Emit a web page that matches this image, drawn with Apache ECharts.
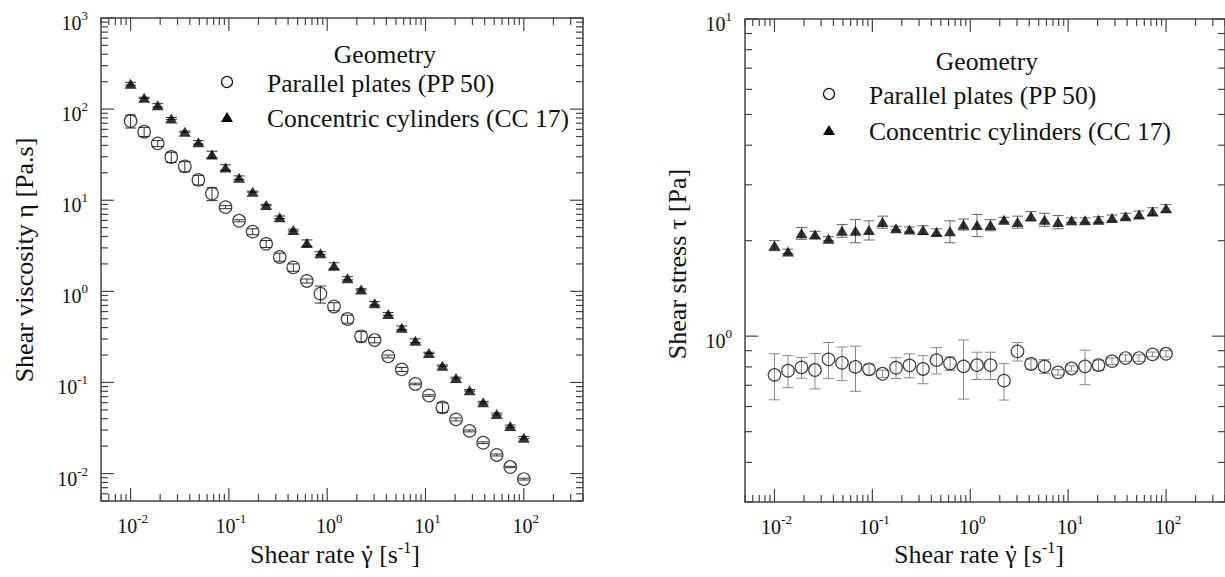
<!DOCTYPE html>
<html>
<head>
<meta charset="utf-8">
<script src="https://cdn.jsdelivr.net/npm/echarts@6/dist/echarts.min.js"></script>
<style>
html,body{margin:0;padding:0;background:#fff;}
#chart{width:1225px;height:577px;}
</style>
</head>
<body>
<div id="chart"></div>
<script>
// ---------- data ----------
const shearRate = [0.01, 0.01374, 0.01888, 0.02593, 0.03562, 0.04894, 0.06723, 0.09237, 0.1269, 0.1743,
  0.2395, 0.3290, 0.4520, 0.6210, 0.8532, 1.172, 1.610, 2.212, 3.039, 4.175,
  5.736, 7.880, 10.83, 14.87, 20.43, 28.07, 38.57, 52.98, 72.79, 100];

const viscosityPP = [74, 56.5, 42, 29.8, 23.5, 16.7, 11.8, 8.4, 5.95, 4.52,
  3.32, 2.38, 1.83, 1.30, 0.943, 0.682, 0.497, 0.321, 0.292, 0.193,
  0.139, 0.0963, 0.0719, 0.0532, 0.0393, 0.0294, 0.0218, 0.0160, 0.0118, 0.0087];
const viscosityPPErr = [12, 6.5, 3.2, 3.8, 3.0, 2.0, 1.9, 0.32, 0.16, 0.34,
  0.29, 0.24, 0.17, 0.065, 0.2, 0.068, 0.05, 0.042, 0.02, 0.007,
  0.007, 0.002, 0.0014, 0.0066, 0.0015, 0.0007, 0.0005, 0.0004, 0.0002, 0.0002];

const viscosityCC = [190, 133, 110, 79, 56.5, 43.3, 31.8, 22.9, 17.7, 12.4,
  8.85, 6.5, 4.7, 3.4, 2.62, 1.91, 1.39, 1.05, 0.74, 0.565,
  0.398, 0.287, 0.211, 0.153, 0.112, 0.082, 0.0607, 0.045, 0.0332, 0.0248];
const viscosityCCErr = [6.8, 2.1, 4.7, 1.9, 0.85, 2.0, 2.7, 1.6, 0.78, 0.17,
  0.16, 0.21, 0.11, 0.27, 0.1, 0.15, 0.056, 0.018, 0.033, 0.019,
  0.019, 0.014, 0.0036, 0.0026, 0.0024, 0.0017, 0.0013, 0.0011, 0.0009, 0.0007];

const stressPP = [0.755, 0.778, 0.797, 0.782, 0.845, 0.824, 0.800, 0.786, 0.761, 0.795,
  0.809, 0.788, 0.840, 0.820, 0.803, 0.810, 0.810, 0.724, 0.895, 0.817,
  0.803, 0.769, 0.791, 0.803, 0.810, 0.834, 0.853, 0.853, 0.876, 0.880];
const stressPPErr = [0.125, 0.09, 0.06, 0.1, 0.11, 0.1, 0.13, 0.03, 0.02, 0.06,
  0.07, 0.08, 0.08, 0.04, 0.17, 0.08, 0.08, 0.095, 0.06, 0.03,
  0.04, 0.015, 0.015, 0.1, 0.03, 0.02, 0.02, 0.02, 0.015, 0.02];

const stressCC = [1.93, 1.85, 2.11, 2.09, 2.03, 2.15, 2.15, 2.16, 2.29, 2.19,
  2.17, 2.16, 2.13, 2.14, 2.25, 2.24, 2.24, 2.33, 2.29, 2.39,
  2.33, 2.29, 2.32, 2.32, 2.33, 2.36, 2.39, 2.42, 2.47, 2.53];
const stressCCErr = [0.07, 0.03, 0.09, 0.05, 0.03, 0.1, 0.18, 0.15, 0.1, 0.03,
  0.04, 0.07, 0.05, 0.17, 0.09, 0.18, 0.09, 0.04, 0.1, 0.08,
  0.11, 0.11, 0.04, 0.04, 0.05, 0.05, 0.05, 0.06, 0.07, 0.07];

// tick label exponents (labels are 10^e)
const rateExponents = [-2, -1, 0, 1, 2];
const viscosityExponents = [-2, -1, 0, 1, 2, 3];
const stressExponents = [0, 1];

const legendTitle = 'Geometry';
const seriesNames = ['Parallel plates (PP 50)', 'Concentric cylinders (CC 17)'];
const rateTitleParts = ['Shear rate ', 'γ', ' [s', '-1', ']'];
const viscosityTitle = 'Shear viscosity η [Pa.s]';
const stressTitle = 'Shear stress τ [Pa]';

// ---------- styling ----------
const FONT = 'Liberation Serif';
const FRAME = '#444';
const LEGEND_SIZE = 25.6;
const RATE_MIN = 0.005, RATE_MAX = 400;
const VISC_MIN = 0.005, VISC_MAX = 1000;
const STRESS_MIN = 0.3, STRESS_MAX = 10;

const measureCtx = document.createElement('canvas').getContext('2d');
function textW(str, size) { measureCtx.font = size + 'px ' + FONT; return measureCtx.measureText(str).width; }

function logTicks(min, max) {
  const out = [];
  const e0 = Math.floor(Math.log10(min)), e1 = Math.ceil(Math.log10(max));
  for (let e = e0; e <= e1; e++) {
    for (let m = 1; m <= 9; m++) {
      const v = m * Math.pow(10, e);
      if (v >= min * (1 - 1e-9) && v <= max * (1 + 1e-9)) out.push([v, m === 1 ? 1 : 0]);
    }
  }
  return out;
}

function axisDecor(xMin, xMax, yMin, yMax, xExps, yExps) {
  const data = [];
  logTicks(xMin, xMax).forEach(t => data.push([t[0], 1, 0, t[1]]));
  logTicks(yMin, yMax).forEach(t => data.push([1, t[0], 1, t[1]]));
  xExps.forEach(e => data.push([Math.pow(10, e), 1, 2, e]));
  yExps.forEach(e => data.push([1, Math.pow(10, e), 3, e]));
  return data;
}

const labelRich = {
  b: { fontSize: 20, fontFamily: FONT, lineHeight: 28, fill: '#111' },
  s: { fontSize: 13, fontFamily: FONT, lineHeight: 14, verticalAlign: 'top', fill: '#111' }
};

function renderDecor(params, api) {
  const cs = params.coordSys;
  const kind = api.value(2), f = api.value(3);
  const ls = { stroke: FRAME, lineWidth: 1.2 };
  if (kind === 0) {
    const x = api.coord([api.value(0), api.value(1)])[0];
    const len = f ? 13 : 7;
    return { type: 'group', children: [
      { type: 'line', shape: { x1: x, y1: cs.y + cs.height, x2: x, y2: cs.y + cs.height - len }, style: ls },
      { type: 'line', shape: { x1: x, y1: cs.y, x2: x, y2: cs.y + len }, style: ls }
    ]};
  }
  if (kind === 1) {
    const y = api.coord([api.value(0), api.value(1)])[1];
    const len = f ? 13 : 7;
    return { type: 'group', children: [
      { type: 'line', shape: { x1: cs.x, y1: y, x2: cs.x + len, y2: y }, style: ls },
      { type: 'line', shape: { x1: cs.x + cs.width, y1: y, x2: cs.x + cs.width - len, y2: y }, style: ls }
    ]};
  }
  if (kind === 2) {
    const x = api.coord([api.value(0), api.value(1)])[0];
    return { type: 'text', x: x + 2, y: cs.y + cs.height + 25,
      style: { text: '{b|10}{s|' + f + '}', rich: labelRich, align: 'center', verticalAlign: 'middle' } };
  }
  const y = api.coord([api.value(0), api.value(1)])[1];
  return { type: 'text', x: cs.x - 13, y: y + 5,
    style: { text: '{b|10}{s|' + f + '}', rich: labelRich, align: 'right', verticalAlign: 'middle' } };
}

function errData(xs, ys, es) {
  return xs.map((x, i) => [x, ys[i], ys[i] - es[i], ys[i] + es[i]]);
}
function renderErr(color) {
  return function (params, api) {
    const x = api.value(0);
    const lo = api.coord([x, api.value(2)]);
    const hi = api.coord([x, api.value(3)]);
    const w = 5.5;
    const ls = { stroke: color, lineWidth: 1 };
    return { type: 'group', children: [
      { type: 'line', shape: { x1: lo[0], y1: lo[1], x2: hi[0], y2: hi[1] }, style: ls },
      { type: 'line', shape: { x1: lo[0] - w, y1: lo[1], x2: lo[0] + w, y2: lo[1] }, style: ls },
      { type: 'line', shape: { x1: hi[0] - w, y1: hi[1], x2: hi[0] + w, y2: hi[1] }, style: ls }
    ]};
  };
}
function pts(xs, ys) { return xs.map((x, i) => [x, ys[i]]); }

const circleStyle = { color: 'rgba(0,0,0,0)', borderColor: '#111', borderWidth: 1.2 };
const triStyle = { color: '#000' };

function txt(x, y, text, size, align, lh) {
  const style = { text: text, fontSize: size, fontFamily: FONT, fill: '#111', align: align, verticalAlign: 'middle' };
  if (lh) style.lineHeight = lh;
  return { type: 'text', x: x, y: y, style: style };
}

function legendGraphic(titleX, titleY, markX, textX, y1, y2) {
  return [
    txt(titleX, titleY, legendTitle, LEGEND_SIZE, 'center', 22),
    { type: 'circle', shape: { cx: markX, cy: y1, r: 5.5 }, style: { fill: 'none', stroke: '#111', lineWidth: 1.2 } },
    txt(textX, y1 + 1.5, seriesNames[0], LEGEND_SIZE, 'left', 22),
    { type: 'polygon', shape: { points: [[markX, y2 - 5], [markX - 6, y2 + 5], [markX + 6, y2 + 5]] }, style: { fill: '#000' } },
    txt(textX, y2 + 1, seriesNames[1], LEGEND_SIZE, 'left', 22)
  ];
}

const titleRich = {
  t: { fontSize: 26, fontFamily: FONT, fill: '#111', lineHeight: 30 },
  s: { fontSize: 16, fontFamily: FONT, fill: '#111', lineHeight: 16, verticalAlign: 'top' }
};
const P = rateTitleParts;
const rateTitle = '{t|' + P[0] + P[1] + P[2] + '}{s|' + P[3] + '}{t|' + P[4] + '}';

function rateTitleGraphic(cx, cy) {
  const total = textW(P[0] + P[1] + P[2], 26) + textW(P[3], 16) + textW(P[4], 26);
  const left = cx - total / 2;
  const gx = left + textW(P[0], 26) + textW(P[1], 26) / 2 + 1;
  return [
    { type: 'text', x: cx, y: cy, style: { text: rateTitle, rich: titleRich, align: 'center', verticalAlign: 'middle' } },
    { type: 'circle', shape: { cx: gx, cy: cy - 7, r: 1.5 }, style: { fill: '#111' } }
  ];
}

const hiddenAxis = {
  axisLine: { show: false }, axisTick: { show: false }, axisLabel: { show: false }, splitLine: { show: false }
};

const chart = echarts.init(document.getElementById('chart'), null, { renderer: 'svg' });
chart.setOption({
  animation: false,
  backgroundColor: '#fff',
  textStyle: { fontFamily: FONT },
  grid: [
    { left: 101, top: 18, width: 482, height: 483, show: true, borderColor: FRAME, borderWidth: 1.5, backgroundColor: 'transparent' },
    { left: 745, top: 19, width: 482, height: 483, show: true, borderColor: FRAME, borderWidth: 1.5, backgroundColor: 'transparent' }
  ],
  xAxis: [
    Object.assign({ type: 'log', logBase: 10, min: RATE_MIN, max: RATE_MAX, gridIndex: 0 }, hiddenAxis),
    Object.assign({ type: 'log', logBase: 10, min: RATE_MIN, max: RATE_MAX, gridIndex: 1 }, hiddenAxis)
  ],
  yAxis: [
    Object.assign({ type: 'log', logBase: 10, min: VISC_MIN, max: VISC_MAX, gridIndex: 0 }, hiddenAxis),
    Object.assign({ type: 'log', logBase: 10, min: STRESS_MIN, max: STRESS_MAX, gridIndex: 1 }, hiddenAxis)
  ],
  graphic: [].concat(
    legendGraphic(385, 54.5, 227, 267, 82, 117),
    legendGraphic(987, 61, 829, 869, 94, 130),
    rateTitleGraphic(335, 554),
    rateTitleGraphic(979, 554),
    [
      Object.assign(txt(24, 260, viscosityTitle, 26, 'center'), { rotation: Math.PI / 2 }),
      Object.assign(txt(677, 264, stressTitle, 26, 'center'), { rotation: Math.PI / 2 })
    ]
  ),
  series: [
    { type: 'custom', xAxisIndex: 0, yAxisIndex: 0, silent: true, encode: { x: 0, y: 1 },
      data: axisDecor(RATE_MIN, RATE_MAX, VISC_MIN, VISC_MAX, rateExponents, viscosityExponents), renderItem: renderDecor },
    { type: 'custom', xAxisIndex: 1, yAxisIndex: 1, silent: true, encode: { x: 0, y: 1 },
      data: axisDecor(RATE_MIN, RATE_MAX, STRESS_MIN, STRESS_MAX, rateExponents, stressExponents), renderItem: renderDecor },

    { type: 'custom', xAxisIndex: 0, yAxisIndex: 0, silent: true, encode: { x: 0, y: 1 },
      data: errData(shearRate, viscosityPP, viscosityPPErr), renderItem: renderErr('#333') },
    { type: 'custom', xAxisIndex: 0, yAxisIndex: 0, silent: true, encode: { x: 0, y: 1 },
      data: errData(shearRate, viscosityCC, viscosityCCErr), renderItem: renderErr('#333') },
    { type: 'custom', xAxisIndex: 1, yAxisIndex: 1, silent: true, encode: { x: 0, y: 1 },
      data: errData(shearRate, stressPP, stressPPErr), renderItem: renderErr('#888') },
    { type: 'custom', xAxisIndex: 1, yAxisIndex: 1, silent: true, encode: { x: 0, y: 1 },
      data: errData(shearRate, stressCC, stressCCErr), renderItem: renderErr('#666') },

    { name: seriesNames[0], type: 'scatter', xAxisIndex: 0, yAxisIndex: 0, symbol: 'circle', symbolSize: 12.5,
      itemStyle: circleStyle, data: pts(shearRate, viscosityPP), z: 5 },
    { name: seriesNames[1], type: 'scatter', xAxisIndex: 0, yAxisIndex: 0, symbol: 'triangle', symbolSize: [12, 10],
      itemStyle: triStyle, data: pts(shearRate, viscosityCC), z: 5 },
    { name: seriesNames[0], type: 'scatter', xAxisIndex: 1, yAxisIndex: 1, symbol: 'circle', symbolSize: 12.5,
      itemStyle: circleStyle, data: pts(shearRate, stressPP), z: 5 },
    { name: seriesNames[1], type: 'scatter', xAxisIndex: 1, yAxisIndex: 1, symbol: 'triangle', symbolSize: [12, 10],
      itemStyle: triStyle, data: pts(shearRate, stressCC), z: 5 }
  ]
});
</script>
</body>
</html>
